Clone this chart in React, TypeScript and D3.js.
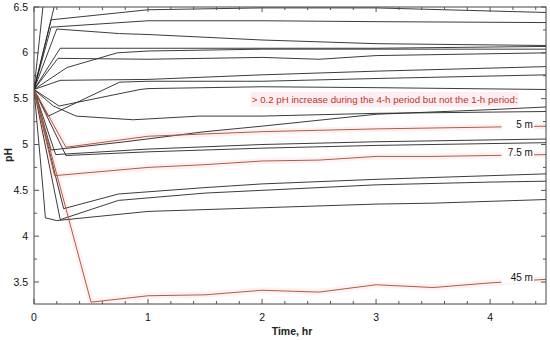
import React, { useEffect } from 'react'
import * as d3 from 'd3'

type Pt = [number, number]

// black series (time hr, pH)
const lineA: Pt[] = [[0, 5.6], [0.1, 6.75], [1, 6.9], [4.5, 6.9]]
const lineB: Pt[] = [[0, 5.6], [0.2, 6.62], [1, 6.7], [4.5, 6.7]]
const lineC: Pt[] = [[0, 5.6], [0.15, 6.36], [1, 6.47], [2, 6.49], [3, 6.49], [4.5, 6.44]]
const lineD: Pt[] = [[0, 5.6], [0.15, 6.28], [1, 6.35], [2, 6.35], [3, 6.34], [4.5, 6.33]]
const lineE: Pt[] = [[0, 5.6], [0.2, 6.26], [0.75, 6.21], [1, 6.2], [2, 6.14], [3, 6.1], [4.5, 6.08]]
const lineF: Pt[] = [[0, 5.6], [0.23, 6.05], [1, 6.05], [2, 6.05], [3, 6.05], [4.5, 6.07]]
const lineG: Pt[] = [[0, 5.6], [0.21, 5.94], [1, 5.93], [2, 5.95], [2.5, 5.93], [3, 5.97], [4.5, 6.0]]
const lineH: Pt[] = [[0, 5.6], [0.29, 5.84], [0.73, 6.0], [1, 6.02], [2, 6.04], [3, 6.04], [4.5, 6.04]]
const lineI: Pt[] = [[0, 5.6], [0.23, 5.7], [1, 5.71], [2, 5.76], [3, 5.8], [4.5, 5.85]]
const lineJ1: Pt[] = [[0, 5.6], [0.125, 5.31], [0.75, 5.68], [1, 5.69], [2, 5.69], [3, 5.72], [4.5, 5.76]]
const lineJ2: Pt[] = [[0, 5.6], [0.22, 5.42], [0.93, 5.6], [1, 5.61], [2, 5.63], [3, 5.62], [4.5, 5.6]]
const lineK: Pt[] = [[0, 5.6], [0.17, 5.42], [0.37, 5.31], [0.87, 5.27], [1.45, 5.31], [2, 5.31], [3, 5.34], [4.5, 5.36]]
const lineM: Pt[] = [[0, 5.6], [0.15, 4.94], [0.8, 5.03], [1.5, 5.14], [2, 5.2], [3, 5.33], [4, 5.38], [4.5, 5.41]]
const lineN: Pt[] = [[0, 5.6], [0.19, 4.89], [1, 4.95], [2, 5.0], [3, 5.03], [4.5, 5.06]]
const lineO: Pt[] = [[0, 5.6], [0.28, 4.88], [1, 4.92], [2, 4.96], [3, 4.99], [4.5, 5.02]]
const lineP: Pt[] = [[0, 5.6], [0.26, 4.3], [0.74, 4.46], [1.5, 4.53], [2, 4.57], [3, 4.62], [4, 4.66], [4.5, 4.68]]
const lineQ: Pt[] = [[0, 5.6], [0.23, 4.18], [0.74, 4.39], [1.5, 4.47], [2, 4.5], [3, 4.56], [4, 4.59], [4.5, 4.6]]
const lineR: Pt[] = [[0, 5.6], [0.08, 4.5], [0.1, 4.2], [0.2, 4.17], [1, 4.27], [1.5, 4.29], [2, 4.31], [3, 4.35], [3.5, 4.36], [4, 4.38], [4.5, 4.4]]

// red series
const red5m: Pt[] = [[0, 5.6], [0.28, 4.97], [1, 5.09], [2, 5.14], [3, 5.17], [4.5, 5.2]]
const red75m: Pt[] = [[0, 5.6], [0.18, 4.66], [1, 4.75], [1.5, 4.78], [2, 4.82], [2.5, 4.83], [3, 4.87], [3.5, 4.87], [4, 4.88], [4.5, 4.89]]
const red45m: Pt[] = [[0, 5.6], [0.5, 3.28], [1, 3.35], [1.5, 3.36], [2, 3.41], [2.5, 3.39], [3, 3.47], [3.5, 3.44], [4, 3.49], [4.5, 3.53]]

const blackLines = [lineA, lineB, lineC, lineD, lineE, lineF, lineG, lineH, lineI, lineJ1, lineJ2, lineK, lineM, lineN, lineO, lineP, lineQ, lineR]
const redLines = [red5m, red75m, red45m]
const redLabels = ['5 m', '7.5 m', '45 m']

const xTicks = [0, 1, 2, 3, 4]
const yTicks = [3.5, 4, 4.5, 5, 5.5, 6, 6.5]
const note = '> 0.2 pH increase during the 4-h period but not the 1-h period:'

const W = 550
const H = 340
const margin = { top: 7, right: 4, bottom: 36, left: 34 }
const RED = '#b65a40'
const FONT = 'Liberation Sans, Arial, sans-serif'

export default function App() {
  useEffect(() => {
    document.body.style.margin = '0'
  }, [])

  const iw = W - margin.left - margin.right
  const ih = H - margin.top - margin.bottom
  const x = d3.scaleLinear().domain([0, 4.49]).range([0, iw])
  const y = d3.scaleLinear().domain([3.26, 6.5]).range([ih, 0])
  const line = d3.line<Pt>().x((d) => x(d[0])).y((d) => y(d[1]))

  const xMinor = d3.range(0, 4.49, 0.2)
  const yMinor = d3.range(3.5, 6.51, 0.25)

  return (
    <svg width={W} height={H} style={{ display: 'block', background: '#fff' }} fontFamily={FONT}>
      <defs>
        <clipPath id="plot">
          <rect x={0} y={0} width={iw} height={ih} />
        </clipPath>
      </defs>
      <g transform={`translate(${margin.left},${margin.top})`}>
        <g clipPath="url(#plot)">
          {redLines.map((d, i) => (
            <path key={'h' + i} d={line(d) ?? ''} fill="none" stroke="#fdf1f4" strokeWidth={6} />
          ))}
          {blackLines.map((d, i) => (
            <path key={'b' + i} d={line(d) ?? ''} fill="none" stroke="#262626" strokeWidth={0.9} />
          ))}
          {redLines.map((d, i) => (
            <path key={'r' + i} d={line(d) ?? ''} fill="none" stroke={RED} strokeWidth={1} />
          ))}
        </g>

        {/* labels on red lines */}
        {redLines.map((d, i) => {
          const last = d[d.length - 1]
          return (
            <g key={'l' + i}>
              <rect x={x(4.1)} y={y(last[1]) - 8} width={x(4.385) - x(4.1)} height={12} fill="#fff" />
              <text x={x(4.375)} y={y(last[1]) + 1.5} textAnchor="end" fontSize={10} fill="#111">
                {redLabels[i]}
              </text>
            </g>
          )
        })}

        {/* note */}
        <rect x={x(1.9)} y={85} width={x(4.25) - x(1.9)} height={15} fill="#fdeef1" />
        <text x={x(1.91)} y={96} fontSize={9.7} fill="#c0322c">
          {note}
        </text>

        {/* frame */}
        <rect x={0} y={0} width={iw} height={ih} fill="none" stroke="#444" strokeWidth={1} />

        {/* ticks */}
        {xMinor.map((t) => {
          const major = Math.abs(t - Math.round(t)) < 1e-6
          const len = major ? 5 : 3
          return (
            <g key={'xt' + t} stroke="#555">
              <line x1={x(t)} x2={x(t)} y1={ih} y2={ih - len} />
              <line x1={x(t)} x2={x(t)} y1={0} y2={len} />
            </g>
          )
        })}
        {yMinor.map((v) => {
          const major = Math.abs(v * 2 - Math.round(v * 2)) < 1e-6
          const len = major ? 5 : 3
          return (
            <g key={'yt' + v} stroke="#555">
              <line x1={0} x2={len} y1={y(v)} y2={y(v)} />
              <line x1={iw} x2={iw - len} y1={y(v)} y2={y(v)} />
            </g>
          )
        })}

        {xTicks.map((t) => (
          <text key={'xl' + t} x={x(t)} y={ih + 17} textAnchor="middle" fontSize={10.5} fill="#111">
            {t}
          </text>
        ))}
        {yTicks.map((v) => (
          <text key={'yl' + v} x={-6} y={y(v) + 3.5} textAnchor="end" fontSize={10.5} fill="#111">
            {v}
          </text>
        ))}

        <text x={iw / 2 + 2} y={ih + 31} textAnchor="middle" fontSize={10.5} fontWeight="bold" fill="#222">
          Time, hr
        </text>
        <text transform={`translate(${-22},${148}) rotate(-90)`} textAnchor="middle" fontSize={10.5} fontWeight="bold" fill="#222">
          pH
        </text>
      </g>
    </svg>
  )
}
